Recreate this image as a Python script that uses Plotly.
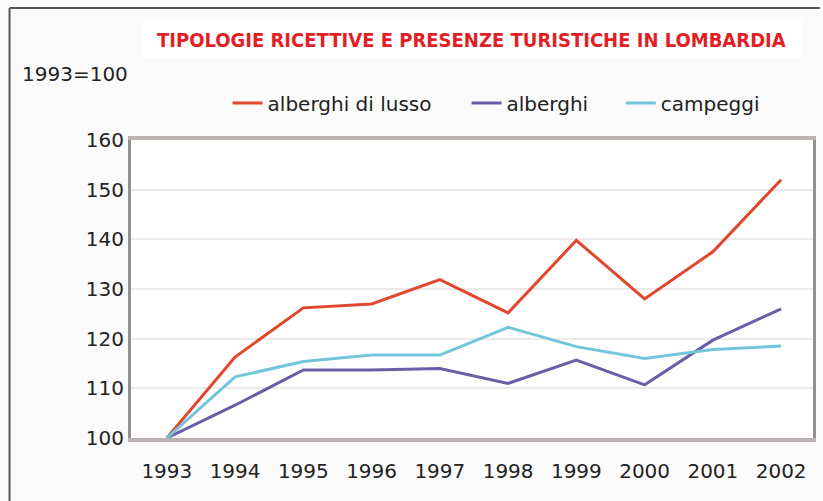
import plotly.graph_objects as go

# indice 1993 = 100
anni = [1993, 1994, 1995, 1996, 1997, 1998, 1999, 2000, 2001, 2002]
alberghi_lusso = [100, 116.3, 126.2, 127, 131.9, 125.2, 139.8, 128, 137.5, 152]
alberghi = [100, 106.6, 113.7, 113.7, 114, 111, 115.7, 110.7, 119.7, 126]
campeggi = [100, 112.3, 115.4, 116.7, 116.7, 122.3, 118.4, 116, 117.8, 118.5]
y_ticks = [100, 110, 120, 130, 140, 150, 160]

W, H = 823, 501
L, R, T, B = 131, 7, 140, 63  # plot area in px


def px_x(p):  # pixel -> paper x
    return (p - L) / (W - L - R)


def px_y(p):  # pixel -> paper y
    return (H - B - p) / (H - T - B)


txt = dict(family="DejaVu Sans, Liberation Sans, sans-serif", size=20, color="#222222")

fig = go.Figure()
fig.add_trace(go.Scatter(x=anni, y=alberghi_lusso, mode="lines", name="alberghi di lusso",
                         line=dict(color="#e0472c", width=3), legend="legend"))
fig.add_trace(go.Scatter(x=anni, y=alberghi, mode="lines", name="alberghi",
                         line=dict(color="#6a5fa6", width=3), legend="legend2"))
fig.add_trace(go.Scatter(x=anni, y=campeggi, mode="lines", name="campeggi",
                         line=dict(color="#72c6da", width=3), legend="legend3"))

# frame and white box behind the title
fig.add_shape(type="line", xref="paper", yref="paper", x0=px_x(9), x1=px_x(823), y0=px_y(8), y1=px_y(8),
              line=dict(color="#555555", width=2))
fig.add_shape(type="line", xref="paper", yref="paper", x0=px_x(9), x1=px_x(9), y0=px_y(8), y1=px_y(501),
              line=dict(color="#555555", width=2))
fig.add_shape(type="rect", xref="paper", yref="paper", x0=px_x(143), x1=px_x(805), y0=px_y(20), y1=px_y(58),
              fillcolor="white", line=dict(width=0), layer="below")

fig.add_annotation(text="TIPOLOGIE RICETTIVE E PRESENZE TURISTICHE IN LOMBARDIA",
                   xref="paper", yref="paper", x=px_x(473), y=px_y(40), showarrow=False,
                   xanchor="center", yanchor="middle",
                   font=dict(family="DejaVu Sans Condensed, DejaVu Sans, sans-serif",
                             size=20, color="#e41e26", weight="bold"))
fig.add_annotation(text="1993=100", xref="paper", yref="paper", x=px_x(20), y=px_y(74),
                   showarrow=False, xanchor="left", yanchor="middle", font=txt)


def leg(x_px):
    return dict(orientation="h", x=px_x(x_px), xanchor="left", y=px_y(103), yanchor="middle",
                font=txt, bgcolor="rgba(0,0,0,0)", itemwidth=30)


fig.update_layout(
    width=W, height=H,
    margin=dict(l=L, r=R, t=T, b=B),
    paper_bgcolor="#fbfbfb", plot_bgcolor="white",
    showlegend=True,
    legend=leg(228), legend2=leg(468), legend3=leg(623),
    xaxis=dict(range=[1992.475, 2002.467], tickvals=anni, ticks="", showgrid=False,
               showline=True, linecolor="#bab2b0", linewidth=4, mirror=True,
               tickfont=txt, ticklabelstandoff=12, zeroline=False),
    yaxis=dict(range=[100, 160], tickvals=y_ticks, ticks="", showgrid=True,
               gridcolor="#ebe9e9", gridwidth=2,
               showline=True, linecolor="#968e8c", linewidth=3, mirror=True,
               tickfont=txt, ticklabelstandoff=0, zeroline=False),
)

fig.write_html("out.html", config={"displayModeBar": False},
               post_script="document.body.style.margin='0';")
